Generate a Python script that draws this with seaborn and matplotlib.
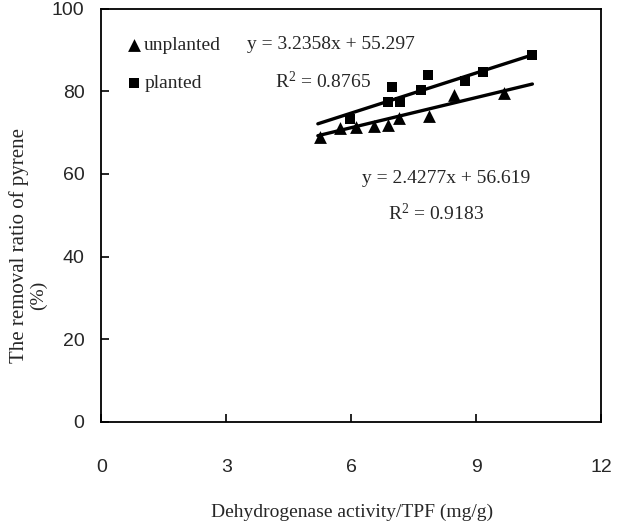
import numpy as np
import pandas as pd
import matplotlib
matplotlib.use('Agg')
import matplotlib.pyplot as plt
import seaborn as sns

# unplanted (triangles)
unpl_x = [5.24, 5.74, 6.12, 6.54, 6.88, 7.16, 7.86, 8.46, 9.66]
unpl_y = [69.0, 71.0, 71.4, 71.7, 71.8, 73.5, 74.1, 79.2, 79.6]
# planted (squares)
pl_x = [5.98, 6.88, 6.98, 7.18, 7.68, 7.85, 8.74, 9.17, 10.34]
pl_y = [73.2, 77.5, 81.1, 77.5, 80.3, 83.9, 82.5, 84.7, 88.8]

# trendline coefficients shown on the chart and their drawn range
fit_unpl = (2.4277, 56.619)
fit_pl = (3.2358, 55.297)
fit_range = [5.2, 10.35]

x_ticks = [0, 3, 6, 9, 12]
y_ticks = [0, 20, 40, 60, 80, 100]

unpl = pd.DataFrame({"x": unpl_x, "y": unpl_y})
pl = pd.DataFrame({"x": pl_x, "y": pl_y})
lines = pd.DataFrame({
    "x": fit_range * 2,
    "y": [fit_unpl[0] * v + fit_unpl[1] for v in fit_range]
         + [fit_pl[0] * v + fit_pl[1] for v in fit_range],
    "group": ["unplanted"] * 2 + ["planted"] * 2,
})

sns.set_style("white")
plt.rcParams['mathtext.fontset'] = 'custom'
plt.rcParams['mathtext.rm'] = 'Liberation Serif'
plt.rcParams['mathtext.default'] = 'rm'
serif = ['Liberation Serif', 'DejaVu Serif']
narrow = ['Liberation Sans Narrow', 'Liberation Sans', 'DejaVu Sans']

fig = plt.figure(figsize=(6.21, 5.28), dpi=100)
ax = fig.add_axes([0.163, 0.2008, 0.805, 0.783])

sns.lineplot(data=lines, x="x", y="y", units="group", estimator=None,
             color="black", lw=2.4, legend=False, ax=ax)
sns.scatterplot(data=unpl, x="x", y="y", marker="^", color="black", s=85,
                linewidth=0, label="unplanted", ax=ax)
sns.scatterplot(data=pl, x="x", y="y", marker="s", color="black", s=55,
                linewidth=0, label="planted", ax=ax)

ax.set_xlim(0, 12)
ax.set_ylim(0, 100)
ax.set_xticks(x_ticks)
ax.set_yticks(y_ticks)
ax.tick_params(which='major', direction='in', length=6, width=1.2,
               color='black', bottom=True, left=True)
ax.tick_params(axis='x', pad=27)
ax.tick_params(axis='y', pad=12)
for lab in ax.get_xticklabels() + ax.get_yticklabels():
    lab.set_family(narrow)
    lab.set_fontsize(14)
for sp in ax.spines.values():
    sp.set_color('black')
    sp.set_linewidth(1.3)
ax.set_xlabel("")
ax.set_ylabel("")

leg = ax.legend(loc='upper left', bbox_to_anchor=(0.051, 0.933), frameon=False,
                handlelength=0.8, handletextpad=0.1, labelspacing=1.05,
                borderaxespad=0, borderpad=0,
                prop={'family': serif, 'size': 14})

ax.text(0.292, 0.913, "y = 3.2358x + 55.297", transform=ax.transAxes,
        family=serif, fontsize=14, va='center')
ax.text(0.348, 0.823, "R$^2$ = 0.8765", transform=ax.transAxes,
        family=serif, fontsize=14, va='center')
ax.text(0.522, 0.588, "y = 2.4277x + 56.619", transform=ax.transAxes,
        family=serif, fontsize=14, va='center')
ax.text(0.574, 0.505, "R$^2$ = 0.9183", transform=ax.transAxes,
        family=serif, fontsize=14, va='center')

fig.text(0.567, 0.03, "Dehydrogenase activity/TPF (mg/g)", family=serif,
         fontsize=14, ha='center', va='center')
fig.text(0.03, 0.535, "The removal ratio of pyrene", family=serif,
         fontsize=15, rotation=90, ha='center', va='center')
fig.text(0.062, 0.44, "(%)", family=serif,
         fontsize=14, rotation=90, ha='center', va='center')

fig.savefig("out.png", dpi=100)
